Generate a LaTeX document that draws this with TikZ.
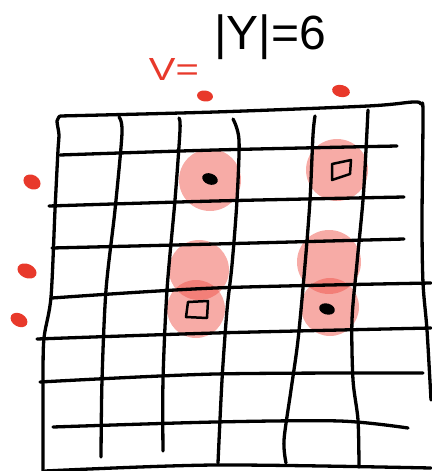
\documentclass[tikz,border=0pt]{standalone}
\usepackage{fontspec}
\setsansfont{Liberation Sans}
\usetikzlibrary{calc}
\definecolor{ink}{HTML}{000000}
\definecolor{spot}{HTML}{E8392B}
\definecolor{halo}{HTML}{EE5046}
\newcommand{\PenW}{3.3pt}
\newcommand{\HaloOp}{0.48}

\begin{document}
\begin{tikzpicture}[x=1pt, y=-1pt, font=\sffamily, ink,
  pen/.style={ink, line width=\PenW, line cap=round, line join=round},
  glyph/.style={ink, line width=2.5pt, line join=round}]

\useasboundingbox (0,0) rectangle (431,471);

% --- Halos: picked cells, under the grid ------------------------------------------
\foreach \cx/\cy/\r in {210/180/31, 337/170/31, 199/270/30, 196/309/29, 329/262/32, 330/307/29} {
  \fill[halo, fill opacity=\HaloOp] (\cx,\cy) circle[radius=\r];
}

% --- Frame ----------------------------------------------------------------------------
\draw[pen] plot[smooth, tension=0.5] coordinates {(60,116) (215,112) (368,106) (413,102) (421,104) (423,113) (422,220) (423,283) (427,330) (431,400)};
\draw[pen] plot[smooth, tension=0.5] coordinates {(60,116) (57,121) (59,135) (58,150) (55,210) (51,297) (44,338) (43,380) (43,471)};
\draw[pen] plot[smooth] coordinates {(45,471) (215,465) (431,468)};

% --- Rows, top to bottom -----------------------------------------------------------
\draw[pen] plot[smooth] coordinates {(60,155) (215,150) (397,146)};
\draw[pen] plot[smooth] coordinates {(49,206) (215,201) (404,197)};
\draw[pen] plot[smooth] coordinates {(52,248) (215,244) (404,239)};
\draw[pen] plot[smooth] coordinates {(52,298) (215,288) (431,283)};
\draw[pen] plot[smooth] coordinates {(37,339) (215,333) (431,328)};
\draw[pen] plot[smooth] coordinates {(40,382) (215,374) (423,373)};
\draw[pen] plot[smooth] coordinates {(53,427) (215,422) (340,421) (408,428)};

% --- Columns, left to right ---------------------------------------------------------
\draw[pen] plot[smooth] coordinates {(119,117) (122,133) (115,210) (106,290) (102,380) (101,457)};
\draw[pen] plot[smooth] coordinates {(179,118) (180,130) (175,200) (167,290) (163,380) (163,451)};
\draw[pen] plot[smooth] coordinates {(233,119) (239,140) (237,200) (232,265) (227,310) (222,380) (218,463)};
\draw[pen] plot[smooth] coordinates {(315,116) (313,135) (310,200) (305,265) (298,340) (291,390) (284,440) (286,463)};
\draw[pen] plot[smooth] coordinates {(368,110) (366,150) (363,200) (357,263) (352,320) (353,380) (358,420) (359,467)};

% --- Marks inside the halos -------------------------------------------------------
\foreach \x/\y/\a in {210/179/-20, 327/309/-15} {
  \fill[ink, rotate around={\a:(\x,\y)}] (\x,\y) ellipse[x radius=8, y radius=5.5];
}
\draw[glyph] (332,164) -- (351,160) -- (350,174) -- (332,180) -- cycle;
\draw[glyph] (188,302) -- (208,301) -- (207,318) -- (186,317) -- cycle;

% --- Red dots along the edges -------------------------------------------------------
\foreach \x/\y/\rx/\ry/\a in {205/96/8/5.5/-8, 341/91/9/6/-12, 32/182/9/7/-30, 27/271/10/7/-25, 19/320/9/6.5/-30} {
  \fill[spot, rotate around={\a:(\x,\y)}] (\x,\y) ellipse[x radius=\rx, y radius=\ry];
}

% --- Labels ------------------------------------------------------------------------
\node[font=\sffamily\fontsize{48}{50}\selectfont] (setsize) at (270,37) {|Y|=6};
\node[text=spot, xscale=1.25, font=\sffamily\fontsize{32}{34}\selectfont] (vlabel) at (174,69) {V=};

\end{tikzpicture}
\end{document}
